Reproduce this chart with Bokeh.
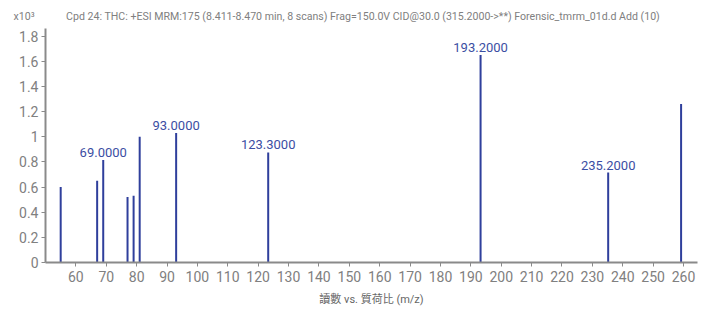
from bokeh.plotting import figure
from bokeh.models import Range1d, FixedTicker, ColumnDataSource
from bokeh.core.properties import value
from bokeh.embed import file_html
from bokeh.resources import INLINE

# m/z of the peaks and their abundances (x10^3)
mz = [55.0, 67.0, 69.0, 77.0, 79.0, 81.0, 93.0, 123.3, 193.2, 235.2, 259.2]
abundance = [0.60, 0.65, 0.815, 0.52, 0.53, 1.00, 1.03, 0.875, 1.65, 0.715, 1.26]

# annotated peaks
label_mz = [69.0, 93.0, 123.3, 193.2, 235.2]
label_text = ["69.0000", "93.0000", "123.3000", "193.2000", "235.2000"]

x_ticks = list(range(60, 261, 10))
y_ticks = [0, 0.2, 0.4, 0.6, 0.8, 1.0, 1.2, 1.4, 1.6, 1.8]
y_tick_labels = ["0", "0.2", "0.4", "0.6", "0.8", "1", "1.2", "1.4", "1.6", "1.8"]

scale_text = "x10³"
title_text = "Cpd 24: THC: +ESI MRM:175 (8.411-8.470 min, 8 scans) Frag=150.0V CID@30.0 (315.2000->**) Forensic_tmrm_01d.d Add (10)"
x_label = "讀數 vs. 質荷比 (m/z)"

FONT = "Roboto, Noto Sans CJK TC, sans-serif"
GRAY = "#808080"
BLUE = "#2f3f9c"

p = figure(width=710, height=313, output_backend="svg", toolbar_location=None,
           x_range=Range1d(50, 264.6), y_range=Range1d(0, 1.86),
           min_border_left=45, min_border_right=13, min_border_top=28, min_border_bottom=51)
p.outline_line_color = None
p.xgrid.visible = False
p.ygrid.visible = False
p.background_fill_color = "white"

p.title.text = scale_text + "\u00a0" * 12 + title_text
p.title.align = "left"
p.title.offset = -32
p.title.standoff = 12
p.title.text_font = FONT
p.title.text_font_size = "10.6px"
p.title.text_font_style = "normal"
p.title.text_color = GRAY

src = ColumnDataSource(dict(x=mz, y=abundance, y0=[0] * len(mz)))
p.segment(x0="x", y0="y0", x1="x", y1="y", source=src, line_width=2, line_color=BLUE)

lab_y = [abundance[mz.index(m)] for m in label_mz]
lsrc = ColumnDataSource(dict(x=label_mz, y=lab_y, t=label_text))
p.text(x="x", y="y", text="t", source=lsrc, text_align="center", text_baseline="bottom",
       y_offset=-3, text_font=value(FONT), text_font_size="13px", text_color="#3b4ea3")

for ax in (p.xaxis[0], p.yaxis[0]):
    ax.axis_line_color = "#8a8a8a"
    ax.axis_line_width = 2
    ax.major_tick_line_color = "#8a8a8a"
    ax.major_tick_out = 4
    ax.major_tick_in = 0
    ax.minor_tick_line_color = None
    ax.major_label_text_font = FONT
    ax.major_label_text_font_size = "14px"
    ax.major_label_text_color = GRAY

p.xaxis.ticker = FixedTicker(ticks=x_ticks)
p.xaxis.major_label_standoff = 4
p.xaxis.axis_label = x_label
p.xaxis.axis_label_text_font = FONT
p.xaxis.axis_label_text_font_size = "11px"
p.xaxis.axis_label_text_font_style = "normal"
p.xaxis.axis_label_text_color = "#666666"
p.xaxis.axis_label_standoff = 8

p.yaxis.ticker = FixedTicker(ticks=y_ticks)
p.yaxis.major_label_overrides = {t: s for t, s in zip(y_ticks, y_tick_labels)}
p.yaxis.major_label_standoff = 3

open("out.html", "w").write(file_html(p, INLINE))
